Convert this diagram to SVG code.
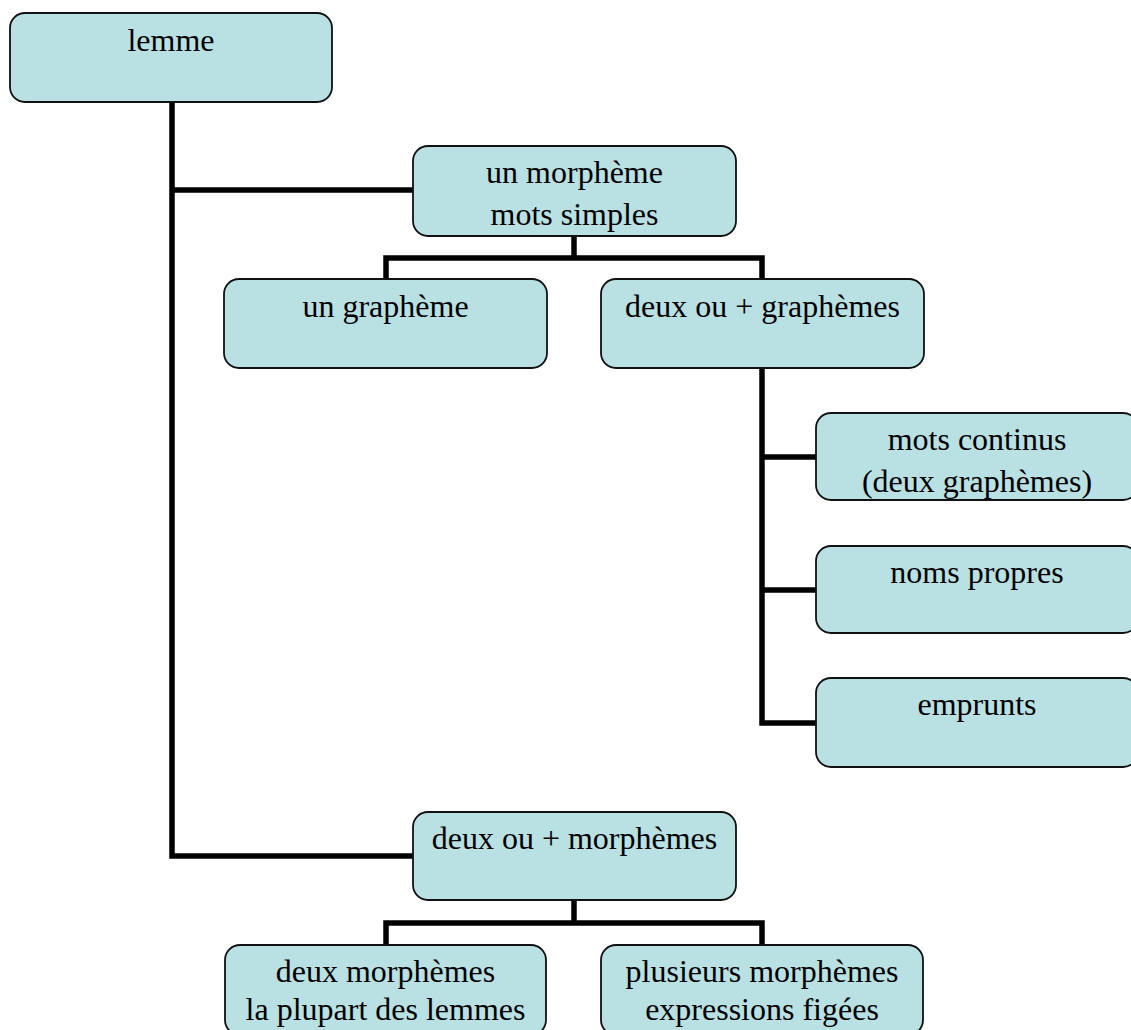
<svg xmlns="http://www.w3.org/2000/svg" width="1131" height="1030" viewBox="0 0 1131 1030">
<style>
.box{fill:#b9e0e3;stroke:#111;stroke-width:1.8}
.t{font-family:'Liberation Serif',serif;font-size:32px;fill:#000;text-anchor:middle}
.c{fill:none;stroke:#000;stroke-width:5.5;stroke-linejoin:miter;stroke-linecap:butt}
</style>
<rect width="1131" height="1030" fill="#fff"/>
<g id="connectors">
<path class="c" d="M172 102 V856 H413"/>
<path class="c" d="M172 190 H413"/>
<path class="c" d="M574 236 V258"/>
<path class="c" d="M386 279 V258 H762 V279"/>
<path class="c" d="M762 368 V723 H816"/>
<path class="c" d="M762 457 H816"/>
<path class="c" d="M762 590 H816"/>
<path class="c" d="M574 900 V923"/>
<path class="c" d="M386 945 V923 H762 V945"/>
</g>
<g id="n-lemme"><rect class="box" x="10" y="13" width="322" height="89" rx="15"/><text class="t" x="171" y="51">lemme</text></g>
<g id="n-un-morpheme"><rect class="box" x="413" y="146" width="323" height="90" rx="15"/><text class="t" x="574.5" y="183">un morphème</text><text class="t" x="574.5" y="225">mots simples</text></g>
<g id="n-un-grapheme"><rect class="box" x="224" y="279" width="323" height="89" rx="15"/><text class="t" x="385.5" y="317">un graphème</text></g>
<g id="n-deux-graphemes"><rect class="box" x="601" y="279" width="323" height="89" rx="15"/><text class="t" x="762.5" y="317">deux ou + graphèmes</text></g>
<g id="n-mots-continus"><rect class="box" x="816" y="413" width="322" height="87" rx="15"/><text class="t" x="977" y="450">mots continus</text><text class="t" x="977" y="492">(deux graphèmes)</text></g>
<g id="n-noms-propres"><rect class="box" x="816" y="546" width="322" height="87" rx="15"/><text class="t" x="977" y="583">noms propres</text></g>
<g id="n-emprunts"><rect class="box" x="816" y="678" width="322" height="89" rx="15"/><text class="t" x="977" y="715">emprunts</text></g>
<g id="n-deux-morphemes-plus"><rect class="box" x="413" y="812" width="323" height="88" rx="15"/><text class="t" x="574.5" y="849">deux ou + morphèmes</text></g>
<g id="n-deux-morphemes"><rect class="box" x="225" y="945" width="321" height="90" rx="15"/><text class="t" x="385.5" y="982">deux morphèmes</text><text class="t" x="385.5" y="1020">la plupart des lemmes</text></g>
<g id="n-plusieurs"><rect class="box" x="601" y="945" width="322" height="90" rx="15"/><text class="t" x="762" y="982">plusieurs morphèmes</text><text class="t" x="762" y="1020">expressions figées</text></g>
</svg>
